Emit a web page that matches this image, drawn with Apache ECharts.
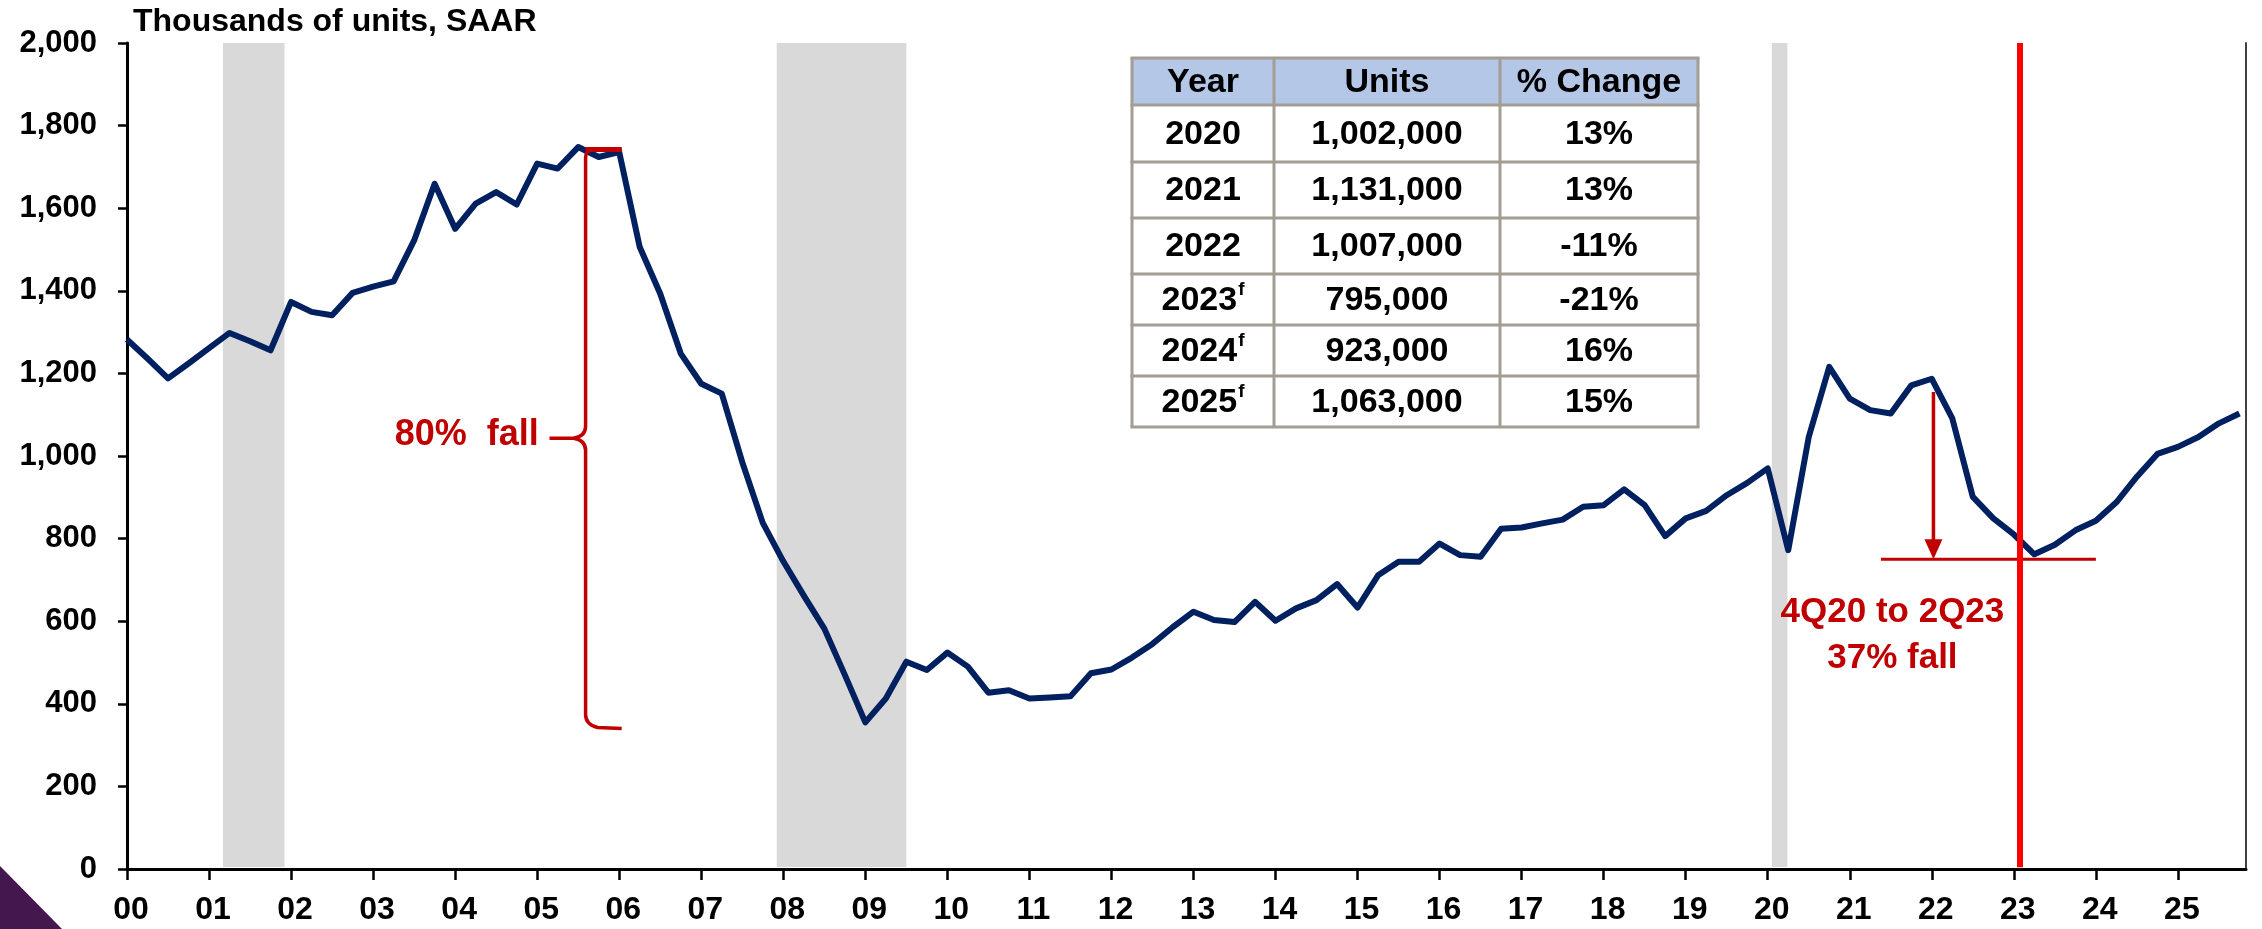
<!DOCTYPE html>
<html>
<head>
<meta charset="utf-8">
<script src="https://cdn.jsdelivr.net/npm/echarts@6.0.0/dist/echarts.min.js"></script>
<style>
    html, body { margin: 0; padding: 0; background: #fff; }
    #main { width: 2262px; height: 929px; }
</style>
</head>
<body>
<div id="main"></div>
<script>
// 季度数据, 2000Q1 - 2025Q4, 千套 (SAAR)
var yearTicks = [0, 1, 2, 3, 4, 5, 6, 7, 8, 9, 10, 11, 12, 13, 14, 15, 16, 17, 18, 19, 20, 21, 22, 23, 24, 25];
var yearLabels = ['00', '01', '02', '03', '04', '05', '06', '07', '08', '09', '10', '11', '12',
    '13', '14', '15', '16', '17', '18', '19', '20', '21', '22', '23', '24', '25'];
var starts = [
    1282, 1236, 1188, 1224,
    1261, 1298, 1278, 1256,
    1373, 1349, 1341, 1395,
    1410, 1423, 1522, 1659,
    1550, 1611, 1639, 1609,
    1708, 1696, 1748, 1724,
    1736, 1506, 1393, 1248,
    1175, 1151, 985, 838,
    745, 662, 582, 470,
    355, 413, 502, 482,
    524, 490, 427, 433,
    413, 415, 418, 474,
    483, 512, 545, 586,
    623, 603, 598, 647,
    601, 631, 651, 690,
    633, 711, 744, 744,
    788, 760, 756, 824,
    827, 837, 846, 877,
    881, 919, 881, 806,
    849, 867, 905, 935,
    970, 772, 1046, 1216,
    1139, 1111, 1103, 1171,
    1187, 1091, 901, 849,
    810, 762, 785, 820,
    843, 888, 950, 1005,
    1022, 1046, 1079, 1103
];
// 经济衰退区间 (年份偏移)
var recessions = [[1.17, 1.92], [7.92, 9.5], [20.05, 20.24]];
var forecastStart = 23.07;

// 表格
var tableHeader = ['Year', 'Units', '% Change'];
var tableYears = ['2020', '2021', '2022', '2023', '2024', '2025'];
var tableForecast = [false, false, false, true, true, true];
var tableUnits = ['1,002,000', '1,131,000', '1,007,000', '795,000', '923,000', '1,063,000'];
var tableChange = ['13%', '13%', '-11%', '-21%', '16%', '15%'];

// 标注
var braceX = 5.59, braceEndX = 6.03, braceTipX = 5.15;
var braceSpan = [1742, 350], braceMid = 1043;
var arrowX = 22.02, arrowTop = 1155, floorY = 750, floorX = [21.38, 24.0];

var RED = '#c00000';
var FONT = "'Liberation Sans', Arial, sans-serif";

var lineData = starts.map(function(v, i) {
    return [i / 4, v];
});

function renderNotes(params, api) {
    var top = api.coord([braceX, braceSpan[0]]),
        bottom = api.coord([braceX, braceSpan[1]]),
        mid = api.coord([braceX, braceMid]),
        tip = api.coord([braceTipX, braceMid]),
        endTop = api.coord([braceEndX, braceSpan[0]]),
        endBottom = api.coord([braceEndX, braceSpan[1]]),
        x = top[0];
    var d = [
        'M', endTop[0], endTop[1],
        'L', x + 8, top[1],
        'Q', x, top[1], x, top[1] + 8,
        'L', x, mid[1] - 12,
        'Q', x, mid[1] - 2, x - 12, mid[1],
        'L', tip[0], mid[1],
        'M', x - 12, mid[1],
        'Q', x, mid[1] + 2, x, mid[1] + 12,
        'L', x, bottom[1] - 10,
        'Q', x, bottom[1], x + 12, bottom[1] + 3,
        'L', endBottom[0], bottom[1] + 4
    ].join(' ');

    var aTop = api.coord([arrowX, arrowTop]),
        aTip = api.coord([arrowX, floorY]),
        f0 = api.coord([floorX[0], floorY]),
        f1 = api.coord([floorX[1], floorY]),
        t1 = api.coord([5.02, 1050]),
        t2 = api.coord([21.52, 566]);

    return {
        type: 'group',
        children: [{
            type: 'path',
            shape: { pathData: d },
            style: { fill: 'none', stroke: RED, lineWidth: 3.5 }
        }, {
            type: 'line',
            shape: { x1: x, y1: top[1], x2: endTop[0], y2: endTop[1] },
            style: { stroke: RED, lineWidth: 5 }
        }, {
            type: 'line',
            shape: { x1: aTop[0], y1: aTop[1], x2: aTip[0], y2: aTip[1] - 16 },
            style: { stroke: RED, lineWidth: 3.5 }
        }, {
            type: 'polygon',
            shape: { points: [[aTip[0] - 9, aTip[1] - 20], [aTip[0] + 9, aTip[1] - 20], [aTip[0], aTip[1]]] },
            style: { fill: RED }
        }, {
            type: 'line',
            shape: { x1: f0[0], y1: f0[1], x2: f1[0], y2: f1[1] },
            style: { stroke: RED, lineWidth: 3 }
        }, {
            type: 'text',
            x: t1[0],
            y: t1[1],
            style: {
                text: '80%  fall', fill: RED, font: 'bold 36px ' + FONT,
                align: 'right', verticalAlign: 'middle'
            }
        }, {
            type: 'text',
            x: t2[0],
            y: t2[1],
            style: {
                text: '4Q20 to 2Q23\n37% fall', fill: RED, font: 'bold 35px ' + FONT,
                lineHeight: 46, align: 'center', verticalAlign: 'middle'
            }
        }]
    };
}

// 表格图形
function buildTable() {
    var left = 1132, top = 58,
        colW = [142, 226, 198],
        rowH = [47, 57, 56, 56, 51, 51, 51],
        border = '#a39e93',
        width = colW[0] + colW[1] + colW[2],
        els = [],
        y = top,
        colX = [left, left + colW[0], left + colW[0] + colW[1], left + width];

    els.push({
        type: 'rect',
        shape: { x: left, y: top, width: width, height: rowH[0] },
        style: { fill: '#b4c7e7' }
    });

    var rows = [tableHeader];
    tableYears.forEach(function(yr, i) {
        rows.push([tableForecast[i] ? '{n|' + yr + '}{s|f}' : '{n|' + yr + '}', tableUnits[i], tableChange[i]]);
    });

    rows.forEach(function(row, r) {
        row.forEach(function(txt, c) {
            els.push({
                type: 'text',
                x: (colX[c] + colX[c + 1]) / 2,
                y: y + rowH[r] / 2 + 1,
                style: {
                    text: c === 0 && r > 0 ? txt : '{n|' + txt + '}',
                    align: 'center',
                    verticalAlign: 'middle',
                    rich: {
                        n: { fontSize: 34, fontWeight: 'bold', fontFamily: FONT, fill: '#000', lineHeight: 40 },
                        s: { fontSize: 19, fontWeight: 'bold', fontFamily: FONT, fill: '#000', lineHeight: 40, verticalAlign: 'top', padding: [0, 0, 14, 1] }
                    }
                }
            });
        });
        y += rowH[r];
    });

    // 网格线
    var yy = top;
    for (var r = 0; r <= rowH.length; r++) {
        els.push({
            type: 'line',
            shape: { x1: left - 1.5, y1: yy, x2: left + width + 1.5, y2: yy },
            style: { stroke: border, lineWidth: 3 }
        });
        yy += rowH[r] || 0;
    }
    colX.forEach(function(cx) {
        els.push({
            type: 'line',
            shape: { x1: cx, y1: top, x2: cx, y2: yy },
            style: { stroke: border, lineWidth: 3 }
        });
    });

    return { type: 'group', z: 50, children: els };
}

var chart = echarts.init(document.getElementById('main'));

var option = {
    backgroundColor: '#fff',
    animation: false,
    textStyle: { fontFamily: FONT },
    grid: { left: 127, top: 43, width: 2119, height: 826 },
    xAxis: {
        type: 'value',
        min: 0,
        max: 25.83,
        interval: 1,
        splitLine: { show: false },
        axisLine: { onZero: false, lineStyle: { color: '#000', width: 3 } },
        axisTick: { customValues: yearTicks, length: 11, lineStyle: { color: '#000', width: 2.5 } },
        axisLabel: {
            customValues: yearTicks,
            formatter: function(v) { return yearLabels[Math.round(v)]; },
            fontSize: 32, fontWeight: 'bold', color: '#000', margin: 25,
            padding: [0, 0, 0, 8]
        }
    },
    yAxis: [{
        type: 'value',
        min: 0,
        max: 2000,
        interval: 200,
        splitLine: { show: false },
        axisLine: { show: true, lineStyle: { color: '#000', width: 3 } },
        axisTick: { show: true, length: 9, lineStyle: { color: '#000', width: 2.5 } },
        axisLabel: {
            formatter: function(v) { return v.toLocaleString('en-US'); },
            fontSize: 31, fontWeight: 'bold', color: '#000', margin: 30
        }
    }, {
        type: 'value',
        position: 'right',
        min: 0,
        max: 2000,
        interval: 200,
        splitLine: { show: false },
        axisLine: { show: true, lineStyle: { color: '#404040', width: 2 } },
        axisTick: { show: false },
        axisLabel: { show: false }
    }],
    graphic: [{
        type: 'text',
        left: 133,
        top: 6,
        style: { text: 'Thousands of units, SAAR', font: 'bold 32px ' + FONT, fill: '#000' }
    }, {
        type: 'polygon',
        shape: { points: [[0, 866], [62, 929], [0, 929]] },
        style: { fill: '#45174f' }
    }, buildTable()],
    series: [{
        name: 'bands',
        type: 'line',
        z: 1,
        data: [],
        markArea: {
            silent: true,
            itemStyle: { color: '#d9d9d9' },
            data: recessions.map(function(r) {
                return [{ xAxis: r[0], yAxis: 5 }, { xAxis: r[1], yAxis: 2000 }];
            })
        },
        markLine: {
            silent: true,
            symbol: ['none', 'none'],
            label: { show: false },
            lineStyle: { color: '#ff0000', width: 6, type: 'solid' },
            data: [[{ coord: [forecastStart, 4] }, { coord: [forecastStart, 2000] }]]
        }
    }, {
        name: 'Starts',
        type: 'line',
        z: 3,
        data: lineData,
        symbol: 'none',
        lineStyle: { color: '#002060', width: 6, join: 'round' },
        itemStyle: { color: '#002060' }
    }, {
        name: 'notes',
        type: 'custom',
        z: 4,
        data: [[0, 0]],
        renderItem: renderNotes
    }]
};

chart.setOption(option);
</script>
</body>
</html>
